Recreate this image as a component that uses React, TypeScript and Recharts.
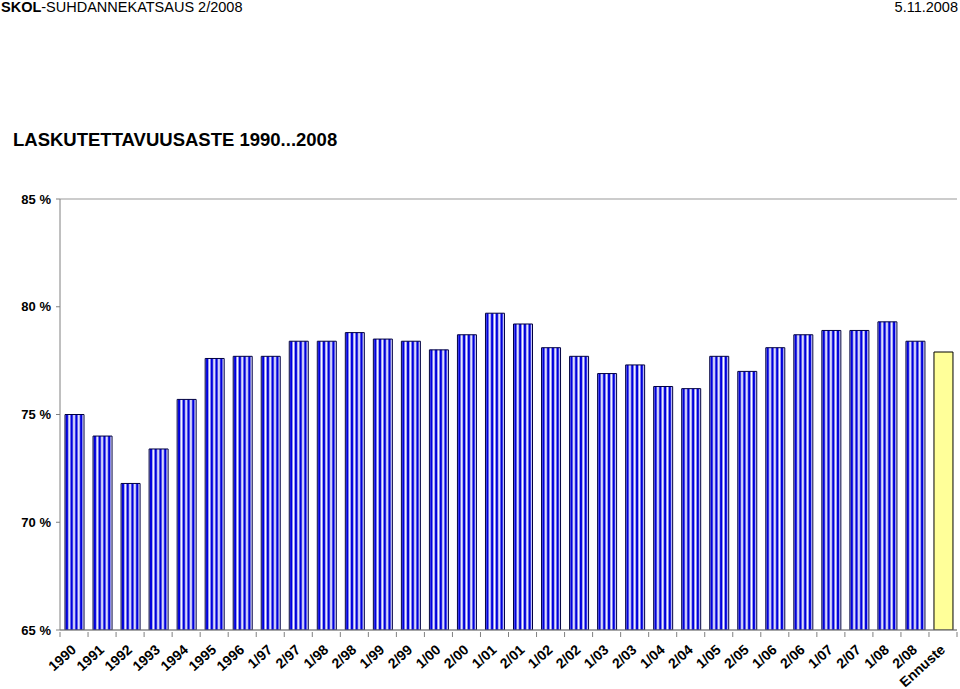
import { Bar, BarChart, CartesianGrid, Cell, XAxis, YAxis } from "recharts";

const categories = [
  "1990", "1991", "1992", "1993", "1994", "1995", "1996",
  "1/97", "2/97", "1/98", "2/98", "1/99", "2/99", "1/00", "2/00",
  "1/01", "2/01", "1/02", "2/02", "1/03", "2/03", "1/04", "2/04",
  "1/05", "2/05", "1/06", "2/06", "1/07", "2/07", "1/08", "2/08", "Ennuste",
];

const rates = [
  75.0, 74.0, 71.8, 73.4, 75.7, 77.6, 77.7,
  77.7, 78.4, 78.4, 78.8, 78.5, 78.4, 78.0, 78.7,
  79.7, 79.2, 78.1, 77.7, 76.9, 77.3, 76.3, 76.2,
  77.7, 77.0, 78.1, 78.7, 78.9, 78.9, 79.3, 78.4, 77.9,
];

const yTicks = [65, 70, 75, 80, 85];

const data = categories.map((period, i) => ({ period, rate: rates[i] }));

const font = "'Liberation Sans', Arial, sans-serif";
const plotLeft = 60;
const plotRight = 957;
const band = (plotRight - plotLeft) / categories.length;

function PeriodTick(props: any) {
  const { x, y, payload, index } = props;
  const last = index === categories.length - 1;
  const tx = x + 3;
  const ty = y + 19;
  return (
    <g>
      <line x1={x - band / 2} y1={y} x2={x - band / 2} y2={y + 5} stroke="#808080" />
      {last && <line x1={x + band / 2} y1={y} x2={x + band / 2} y2={y + 5} stroke="#808080" />}
      <text
        x={tx}
        y={ty}
        transform={`rotate(-42 ${tx} ${ty})`}
        textAnchor="end"
        fontSize={14}
        fontWeight="bold"
        fill="#000"
        fontFamily={font}
      >
        {payload.value}
      </text>
    </g>
  );
}

export default function App() {
  return (
    <div style={{ position: "absolute", left: 0, top: 0, width: 960, height: 689, background: "#fff", fontFamily: font }}>
      <svg width={0} height={0} style={{ position: "absolute" }}>
        <defs>
          <pattern id="stripes" patternUnits="objectBoundingBox" patternContentUnits="objectBoundingBox" width={0.25} height={1}>
            <rect x={0} y={0} width={0.25} height={1} fill="#ffffff" />
            <rect x={0.03} y={0} width={0.14} height={1} fill="#0000dd" />
          </pattern>
        </defs>
      </svg>
      <div style={{ position: "absolute", left: 1, top: -1, fontSize: 14.5, color: "#000", whiteSpace: "nowrap" }}>
        <b>SKOL</b>-SUHDANNEKATSAUS 2/2008
      </div>
      <div style={{ position: "absolute", right: 2, top: -1, fontSize: 14.5, color: "#000" }}>5.11.2008</div>
      <div style={{ position: "absolute", left: 13, top: 129, fontSize: 18.5, fontWeight: "bold", color: "#000", whiteSpace: "nowrap" }}>
        LASKUTETTAVUUSASTE 1990...2008
      </div>
      <div style={{ position: "absolute", left: 0, top: 0 }}>
        <BarChart
          width={960}
          height={689}
          data={data}
          margin={{ top: 199, right: 960 - plotRight, bottom: 0, left: 0 }}
          barSize={19}
        >
          <CartesianGrid horizontal vertical={false} stroke="#999999" />
          <XAxis
            dataKey="period"
            interval={0}
            height={59}
            tickSize={0}
            tickLine={false}
            axisLine={{ stroke: "#808080" }}
            tick={<PeriodTick />}
          />
          <YAxis
            yAxisId="left"
            width={plotLeft}
            domain={[65, 85]}
            ticks={yTicks}
            allowDataOverflow
            tickFormatter={(v: number) => `${v} %`}
            tickSize={4}
            tickMargin={5}
            tickLine={{ stroke: "#808080" }}
            axisLine={{ stroke: "#808080" }}
            tick={{ fontSize: 13, fontWeight: "bold", fill: "#000", fontFamily: font }}
          />
          <YAxis
            yAxisId="right"
            orientation="right"
            width={0}
            domain={[65, 85]}
            tick={false}
            tickLine={false}
            axisLine={{ stroke: "#808080" }}
          />
          <Bar dataKey="rate" yAxisId="left" isAnimationActive={false} strokeWidth={1}>
            {data.map((d, i) => (
              <Cell
                key={d.period}
                fill={i === data.length - 1 ? "#ffff99" : "url(#stripes)"}
                stroke={i === data.length - 1 ? "#000000" : "#000040"}
              />
            ))}
          </Bar>
        </BarChart>
      </div>
    </div>
  );
}
